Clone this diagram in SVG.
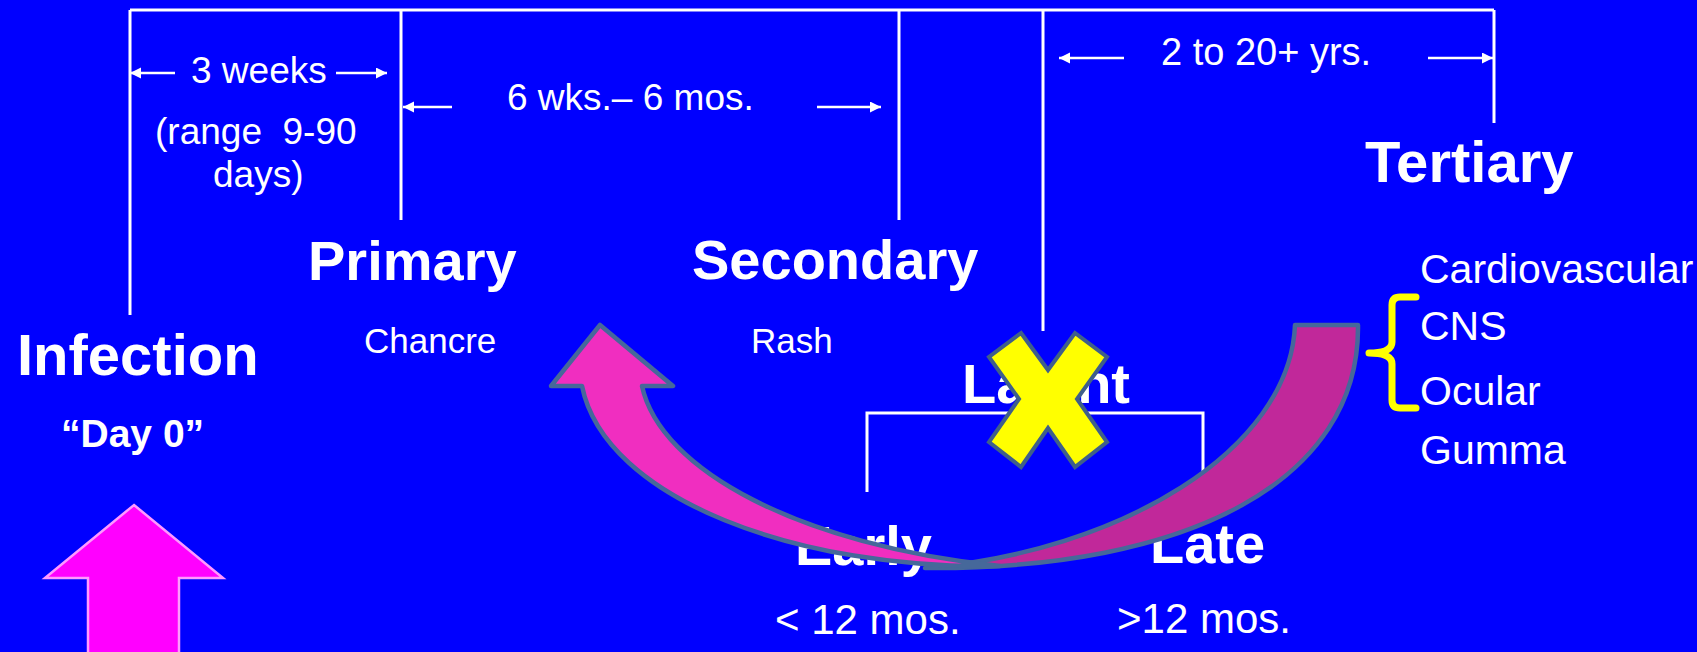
<svg xmlns="http://www.w3.org/2000/svg" width="1697" height="652" viewBox="0 0 1697 652">
  <style>
    .ln { stroke: #FFFFFF; stroke-width: 3; fill: none; }
    .dim { stroke: #FFFFFF; stroke-width: 2.5; fill: none; marker-end: url(#ah); }
    .t { font-family: "Liberation Sans", Arial, sans-serif; fill: #FFFFFF; }
    .h { font-family: "Liberation Sans", Arial, sans-serif; font-weight: bold; fill: #FFFFFF; font-size: 56px; }
    .iv { font-size: 37px; }
    .sub { font-size: 35px; }
    .lst { font-size: 41px; }
    .dur { font-size: 42px; }
    .arc { stroke: #46689A; stroke-width: 4.5; stroke-linejoin: round; }
  </style>
  <defs>
    <marker id="ah" markerUnits="userSpaceOnUse" markerWidth="12" markerHeight="12" refX="11" refY="5.5" orient="auto">
      <path d="M0,0 L11,5.5 L0,11 Z" fill="#FFFFFF"/>
    </marker>
  </defs>
  <rect x="0" y="0" width="1697" height="652" fill="#0000FF"/>

  <g id="connectors">
    <path class="ln" d="M130,10 L1494,10"/>
    <path class="ln" d="M130,10 L130,315"/>
    <path class="ln" d="M401,10 L401,220"/>
    <path class="ln" d="M899,10 L899,220"/>
    <path class="ln" d="M1043,10 L1043,331"/>
    <path class="ln" d="M1494,10 L1494,123"/>
    <path class="ln" d="M867,492 L867,413 L1203,413 L1203,492"/>
    <line class="dim" x1="175" y1="73" x2="130" y2="73"/>
    <line class="dim" x1="336" y1="73" x2="387" y2="73"/>
    <line class="dim" x1="452" y1="107" x2="403" y2="107"/>
    <line class="dim" x1="817" y1="107" x2="881" y2="107"/>
    <line class="dim" x1="1124" y1="58" x2="1059" y2="58"/>
    <line class="dim" x1="1428" y1="58" x2="1493" y2="58"/>
  </g>

  <g id="interval-labels">
    <text class="t iv" x="191" y="83">3 weeks</text>
    <text class="t iv" x="155" y="144" xml:space="preserve">(range  9-90</text>
    <text class="t iv" x="213" y="187">days)</text>
    <text class="t iv" x="507" y="110">6 wks.– 6 mos.</text>
    <text class="t iv" x="1161" y="65" style="font-size:38px">2 to 20+ yrs.</text>
  </g>

  <g id="infection">
    <text class="h" x="17" y="375" style="font-size:58px">Infection</text>
    <text class="h" x="61" y="447" style="font-size:39px">“Day 0”</text>
  </g>

  <g id="primary">
    <text class="h" x="308" y="280">Primary</text>
    <text class="t sub" x="364" y="353">Chancre</text>
  </g>

  <g id="secondary">
    <text class="h" x="692" y="279">Secondary</text>
    <text class="t sub" x="751" y="353">Rash</text>
  </g>

  <g id="latent">
    <text class="h" x="962" y="403">Latent</text>
  </g>

  <g id="early">
    <text class="h" x="795" y="565">Early</text>
    <text class="t dur" x="775" y="634">&lt; 12 mos.</text>
  </g>

  <g id="late">
    <text class="h" x="1150" y="563">Late</text>
    <text class="t dur" x="1117" y="633">&gt;12 mos.</text>
  </g>

  <g id="tertiary">
    <text class="h" x="1365" y="182" style="font-size:58px">Tertiary</text>
    <text class="t lst" x="1420" y="283">Cardiovascular</text>
    <text class="t lst" x="1420" y="340">CNS</text>
    <text class="t lst" x="1420" y="405">Ocular</text>
    <text class="t lst" x="1420" y="464">Gumma</text>
    <path d="M1416,297 L1400,297 Q1392,297 1392,305 L1392,342 Q1392,353 1369,353 Q1392,353 1392,364 L1392,400 Q1392,408 1400,408 L1416,408" fill="none" stroke="#FFFF00" stroke-width="7" stroke-linecap="round" stroke-linejoin="round"/>
  </g>

  <g id="infection-arrow">
    <path d="M134,505 L223,578 L179,578 L179,655 L88,655 L88,578 L45,578 Z" fill="#FF00FF" stroke="#FF99FF" stroke-width="2.5"/>
  </g>

  <g id="curved-arrow">
    <path class="arc" fill="#C1289A" d="M1295,325 L1358,325 C1360,480 1190,570 925,568 C1120,552 1290,450 1295,325 Z"/>
    <path class="arc" fill="#F02EC0" d="M600,325 L673,386 L642,386 C660,470 800,545 1000,566 C800,570 605,500 582,386 L551,386 Z"/>
  </g>

  <g id="cross">
    <path d="M1021,333 L1048,370 L1075,333 L1107,357 L1077,399 L1107,442 L1075,467 L1048,428 L1021,467 L989,442 L1019,399 L989,357 Z" fill="#FFFF00" stroke="#3F5F8A" stroke-width="4" stroke-linejoin="miter"/>
  </g>
</svg>
